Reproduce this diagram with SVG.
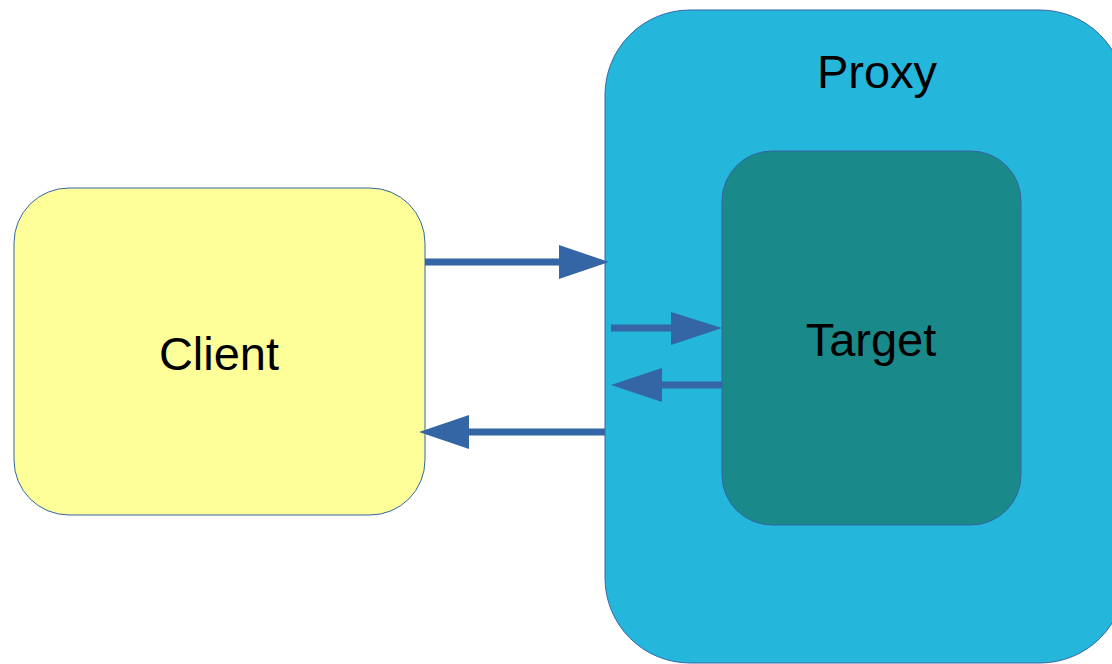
<svg xmlns="http://www.w3.org/2000/svg" width="1112" height="664" viewBox="0 0 1112 664">
<style>
.box{stroke:#3465a4;stroke-width:1}
.lbl{font-family:"Liberation Sans",Arial,sans-serif;fill:#000;text-anchor:middle}
.conn line{stroke:#3465a4;stroke-width:7}
.conn polygon{fill:#3465a4}
</style>
<rect width="1112" height="664" fill="#ffffff"/>
<g id="client">
<rect class="box" x="14" y="188" width="411" height="327" rx="55" fill="#ffff99"/>
<text class="lbl" x="219" y="370" font-size="47">Client</text>
</g>
<g id="proxy">
<rect class="box" x="605" y="10" width="520" height="653" rx="85" fill="#25b6dc"/>
<text class="lbl" x="877" y="88" font-size="47">Proxy</text>
</g>
<g id="target">
<rect class="box" x="722" y="151" width="299" height="374" rx="50" fill="#1a898a"/>
<text class="lbl" x="871" y="356" font-size="47">Target</text>
</g>
<g id="connectors" class="conn">
<line x1="425" y1="262" x2="562" y2="262"/>
<polygon points="559,245 609,262 559,279"/>
<line x1="611" y1="328" x2="674" y2="328"/>
<polygon points="671,312 722,328 671,345"/>
<line x1="722" y1="385" x2="659" y2="385"/>
<polygon points="662,368 611,385 662,402"/>
<line x1="605" y1="432" x2="466" y2="432"/>
<polygon points="469,415 419,432 469,449"/>
</g>
</svg>
